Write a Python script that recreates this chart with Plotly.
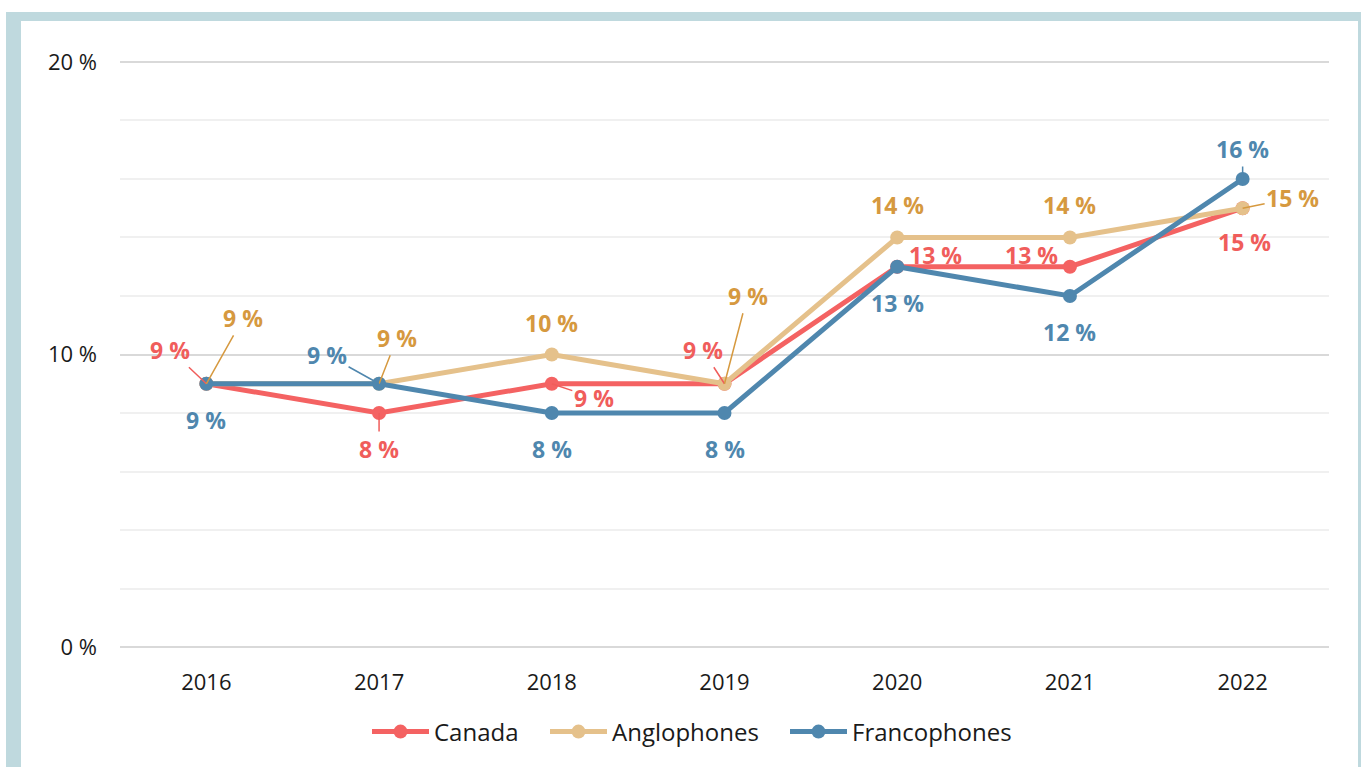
import plotly.graph_objects as go

# ---- data ----
years = ["2016", "2017", "2018", "2019", "2020", "2021", "2022"]
canada = [9, 8, 9, 9, 13, 13, 15]
anglophones = [9, 9, 10, 9, 14, 14, 15]
francophones = [9, 9, 8, 8, 13, 12, 16]
series_names = ["Canada", "Anglophones", "Francophones"]
y_ticks = [0, 10, 20]
y_tick_labels = ["0 %", "10 %", "20 %"]

# ---- styles ----
line_colors = {"Canada": "#f46262", "Anglophones": "#e5c18b", "Francophones": "#4f87ae"}
label_colors = {"Canada": "#f05d5b", "Anglophones": "#d6993f", "Francophones": "#4f87ae"}
FONT = "Open Sans"

# label placement (pixel offsets from the point: dx, dy (screen, down positive), leader line?)
label_offsets = {
    "Canada": [(-36, -34, True), (0, 36, True), (42, 14, True), (-22, -34, True),
               (38, -12, False), (-38, -12, False), (2, 34, False)],
    "Anglophones": [(37, -66, True), (18, -46, True), (0, -32, False), (23, -88, True),
                    (0, -32, False), (0, -32, False), (50, -10, True)],
    "Francophones": [(0, 36, False), (-52, -29, True), (0, 36, False), (0, 36, False),
                     (0, 36, False), (0, 36, False), (0, -30, True)],
}
# left pixel of each legend entry
legend_left_px = {"Canada": 375, "Anglophones": 553, "Francophones": 793}
legend_ids = {"Canada": "legend", "Anglophones": "legend2", "Francophones": "legend3"}

values = {"Canada": canada, "Anglophones": anglophones, "Francophones": francophones}

W, H = 1361, 767
L, R, T, B = 120, 32, 59, 117
pw, ph = W - L - R, H - T - B


def px(x):
    return (x - L) / pw


def py(y):
    return (H - B - y) / ph


fig = go.Figure()
for name in series_names:
    fig.add_trace(go.Scatter(
        x=years, y=values[name], name=name, mode="lines+markers",
        line=dict(color=line_colors[name], width=5),
        marker=dict(color=line_colors[name], size=14),
        hoverinfo="skip", legend=legend_ids[name],
    ))

for name in series_names:
    for i, (v, (dx, dy, leader)) in enumerate(zip(values[name], label_offsets[name])):
        txt = f"<b>{v} %</b>"
        # category index used for x (category names look numeric)
        kw = dict(x=i, y=v, xref="x", yref="y", text=txt,
                  font=dict(family=FONT, size=23, color=label_colors[name]),
                  xanchor="center", yanchor="middle")
        if leader:
            kw.update(showarrow=True, ax=dx, ay=dy, axref="pixel", ayref="pixel",
                      arrowhead=0, arrowwidth=1.5, arrowcolor=label_colors[name], standoff=0)
        else:
            kw.update(showarrow=False, xshift=dx, yshift=-dy)
        fig.add_annotation(**kw)

frame = "#bfd9de"
for x0, x1, y0, y1 in [(6, 1361, 21, 12), (6, 21, 767, 12), (1358, 1361, 767, 12)]:
    fig.add_shape(type="rect", xref="paper", yref="paper", x0=px(x0), x1=px(x1),
                  y0=py(y0), y1=py(y1), fillcolor=frame, line=dict(width=0), layer="below")

legend_style = dict(orientation="h", xanchor="left", y=py(732), yanchor="middle",
                    font=dict(family=FONT, size=24, color="#1a1a1a"), itemwidth=57,
                    bgcolor="rgba(0,0,0,0)", borderwidth=0)
legends = {}
for name in series_names:
    legends[legend_ids[name]] = dict(legend_style, x=px(legend_left_px[name] - 8))

fig.update_layout(
    width=W, height=H,
    margin=dict(l=L, r=R, t=T, b=B, pad=0),
    paper_bgcolor="white", plot_bgcolor="white",
    font=dict(family=FONT, color="#222222"),
    showlegend=True,
    **legends,
    xaxis=dict(type="category", range=[-0.5, 6.5], showgrid=False, zeroline=False,
               showline=False, ticks="", tickfont=dict(family=FONT, size=22, color="#1a1a1a"),
               ticklabelstandoff=17, fixedrange=True),
    yaxis=dict(range=[-0.1, 20.1], tickvals=y_ticks, ticktext=y_tick_labels, showgrid=True,
               gridcolor="#d9d9d9", gridwidth=2, zeroline=False, showline=False, ticks="",
               tickfont=dict(family=FONT, size=22, color="#1a1a1a"), ticklabelstandoff=22,
               minor=dict(dtick=2, showgrid=True, gridcolor="#f0f0f0", gridwidth=1.5),
               fixedrange=True),
)

fig.write_html("out.html", config={"displayModeBar": False},
               post_script="document.body.style.margin='0';")
